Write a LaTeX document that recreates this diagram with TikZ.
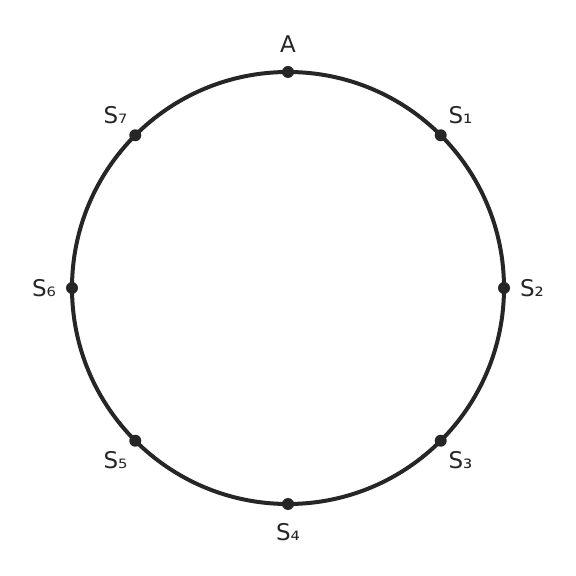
\documentclass[tikz,border=0pt]{standalone}
\usepackage{fontspec}
\setmainfont{DejaVu Sans}
\usetikzlibrary{positioning}
\definecolor{ink}{HTML}{262626}
\tikzset{
  ring/.style={line width=4pt,draw=ink},
  station/.style={shape=circle,minimum size=12pt,inner sep=0pt,fill=ink},
  tag/.style={text=ink,inner sep=0pt,font=\fontsize{23}{23}\selectfont}
}

\begin{document}
\begin{tikzpicture}[x=1pt,y=1pt]
  \useasboundingbox (0,0) rectangle (576,576);
  \begin{scope}[shift={(288,288)}]
    \coordinate (O) at (0,0);
    \draw[ring] (O) circle[radius=216];
    \foreach \ang/\nm/\txt in {90/a/A,45/s1/S₁,0/s2/S₂,-45/s3/S₃,
                              -90/s4/S₄,-135/s5/S₅,180/s6/S₆,135/s7/S₇} {
      \node[station] (\nm) at (\ang:216) {};
      \node[tag] (\nm-tag) at (\ang:244) {\txt};
    }
  \end{scope}
\end{tikzpicture}
\end{document}
